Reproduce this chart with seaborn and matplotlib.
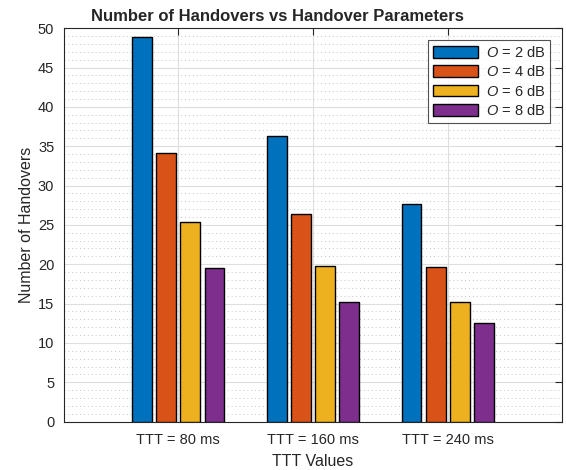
import pandas as pd
import matplotlib.pyplot as plt
import seaborn as sns
from matplotlib.ticker import MultipleLocator

# values
ttt_labels = ["TTT = 80 ms", "TTT = 160 ms", "TTT = 240 ms"]
offset_labels = ["$O$ = 2 dB", "$O$ = 4 dB", "$O$ = 6 dB", "$O$ = 8 dB"]
handovers_o2 = [48.9, 36.3, 27.7]
handovers_o4 = [34.2, 26.4, 19.7]
handovers_o6 = [25.4, 19.8, 15.2]
handovers_o8 = [19.5, 15.2, 12.5]
colors = ["#0072BD", "#D95319", "#EDB120", "#7E2F8E"]


def build_frame():
    series = [handovers_o2, handovers_o4, handovers_o6, handovers_o8]
    records = []
    for label, vals in zip(offset_labels, series):
        for ttt, v in zip(ttt_labels, vals):
            records.append([ttt, label, v])
    return pd.DataFrame(records, columns=["TTT", "Offset", "Handovers"])


def plot_chart(df):
    sns.set_style("white")
    plt.rcParams["font.family"] = ["Liberation Sans", "DejaVu Sans"]
    plt.rcParams["mathtext.fontset"] = "custom"
    plt.rcParams["mathtext.it"] = "Liberation Sans:italic"
    plt.rcParams["mathtext.rm"] = "Liberation Sans"

    fig = plt.figure(figsize=(5.66, 4.70), dpi=100)
    ax = fig.add_axes([0.113, 0.103, 0.88, 0.837])

    sns.barplot(data=df, x="TTT", y="Handovers", hue="Offset",
                palette=colors, saturation=1, width=0.72, gap=0.18,
                edgecolor="black", linewidth=1.0, ax=ax, zorder=3)

    ax.set_xlim(-0.845, 2.845)
    ax.set_ylim(0, 50)
    ax.yaxis.set_major_locator(MultipleLocator(5))
    ax.yaxis.set_minor_locator(MultipleLocator(1))

    ax.grid(True, which="major", color="#dedede", linewidth=0.8, zorder=0)
    ax.grid(True, which="minor", axis="y", color="#c4c4c4",
            linestyle=(0, (1, 3)), linewidth=0.7, zorder=0)
    ax.set_axisbelow(True)

    for s in ax.spines.values():
        s.set_color("#262626")
        s.set_linewidth(0.8)
    ax.tick_params(which="both", direction="in", top=True, right=True,
                   color="#262626", labelsize=10.5, labelcolor="#262626")
    ax.tick_params(which="major", length=5)
    ax.tick_params(which="minor", length=0)
    ax.tick_params(axis="x", pad=8)
    ax.tick_params(axis="y", pad=7)

    ax.set_title("Number of Handovers vs Handover Parameters", x=0.428,
                 fontsize=12, fontweight="bold", pad=5)
    ax.set_xlabel("TTT Values", fontsize=11.5, color="#262626", labelpad=5)
    ax.set_ylabel("Number of Handovers", fontsize=11.5, color="#262626", labelpad=3)

    leg = ax.legend(loc="upper right", fontsize=10.5, frameon=True,
                    fancybox=False, edgecolor="#262626",
                    handlelength=3.1, handleheight=0.85,
                    borderaxespad=0.8, labelspacing=0.3,
                    handletextpad=0.55, borderpad=0.35)
    leg.get_frame().set_linewidth(0.8)

    fig.savefig("out.png", dpi=100)
    plt.close(fig)


def main():
    df = build_frame()
    plot_chart(df)


if __name__ == "__main__":
    main()
